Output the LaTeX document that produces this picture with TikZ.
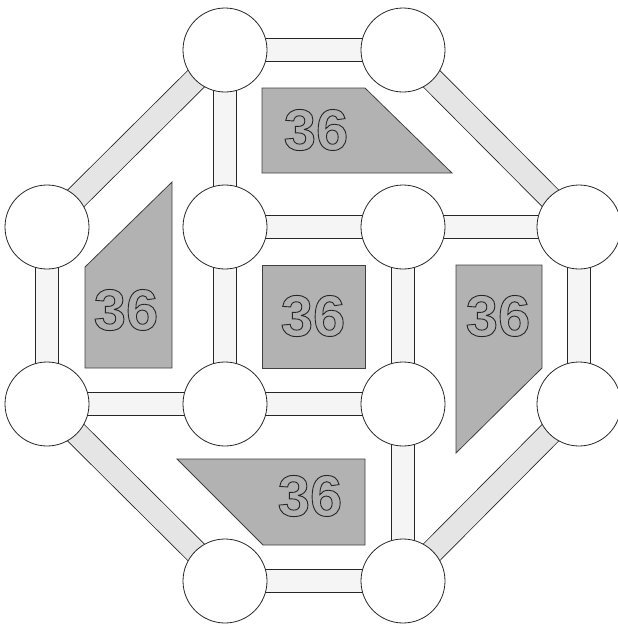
\documentclass[tikz,border=0pt]{standalone}
\usepackage{fontspec}
\setmainfont{Liberation Sans}
\usetikzlibrary{backgrounds}

\newcommand{\hollow}[1]{\special{pdf:literal q 1 Tr 0.9 w}#1\special{pdf:literal Q}}

\tikzset{
  atom/.style={draw=black!85,circle,fill=white,minimum size=84pt,inner sep=0pt,line width=.8pt},
  rod/.style={draw=black!85,line width=.8pt,double=black!4,double distance=22.5pt},
  slant/.style={rod,double=black!10},
  tile/.style={draw=black!75,fill=black!30,line width=.8pt},
  num/.style={font=\fontsize{58}{58}\selectfont\bfseries,text=black!85,inner sep=0pt}
}

\begin{document}
\begin{tikzpicture}[x=1pt,y=-1pt]
\useasboundingbox (0,0) rectangle (618,624);
\node[atom] (n0) at (225,50) {};
\node[atom] (n1) at (403,50) {};
\node[atom] (n2) at (47,227) {};
\node[atom] (n3) at (225,227) {};
\node[atom] (n4) at (403,227) {};
\node[atom] (n5) at (579,227) {};
\node[atom] (n6) at (47,404) {};
\node[atom] (n7) at (225,404) {};
\node[atom] (n8) at (403,404) {};
\node[atom] (n9) at (579,404) {};
\node[atom] (n10) at (225,581) {};
\node[atom] (n11) at (403,581) {};
\begin{pgfonlayer}{background}
\draw[rod] (n0.center) -- (n1.center);
\draw[rod] (n0.center) -- (n3.center);
\draw[rod] (n3.center) -- (n4.center);
\draw[rod] (n4.center) -- (n5.center);
\draw[rod] (n2.center) -- (n6.center);
\draw[rod] (n3.center) -- (n7.center);
\draw[rod] (n4.center) -- (n8.center);
\draw[rod] (n5.center) -- (n9.center);
\draw[rod] (n6.center) -- (n7.center);
\draw[rod] (n7.center) -- (n8.center);
\draw[rod] (n8.center) -- (n11.center);
\draw[rod] (n10.center) -- (n11.center);
\draw[slant] (n0.center) -- (n2.center);
\draw[slant] (n1.center) -- (n5.center);
\draw[slant] (n6.center) -- (n10.center);
\draw[slant] (n9.center) -- (n11.center);
\end{pgfonlayer}
\draw[tile] (262,88) -- (365,88) -- (452,173) -- (262,173) -- cycle;
\draw[tile] (262,265) rectangle (365,368);
\draw[tile] (85,267) -- (172,182) -- (172,368) -- (85,368) -- cycle;
\draw[tile] (456,265) -- (542,265) -- (542,368) -- (456,453) -- cycle;
\draw[tile] (177,459) -- (365,459) -- (365,545) -- (263,545) -- cycle;
\node[num] (t0) at (316,130) {\hollow{36}};
\node[num] (t1) at (313,316) {\hollow{36}};
\node[num] (t2) at (126,310) {\hollow{36}};
\node[num] (t3) at (498,316) {\hollow{36}};
\node[num] (t4) at (310,496) {\hollow{36}};
\end{tikzpicture}
\end{document}
